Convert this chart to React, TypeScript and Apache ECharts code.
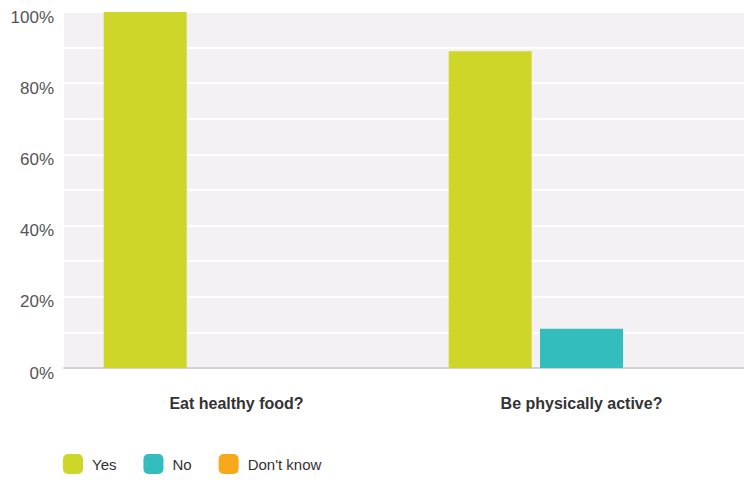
import React, { useEffect, useRef } from "react";
import * as echarts from "echarts";

const categories = ["Eat healthy food?", "Be physically active?"];
const yesValues = [100, 89];
const noValues = [0, 11];
const dontKnowValues = [0, 0];
const seriesNames = ["Yes", "No", "Don't know"];
const colors = ["#cdd629", "#33bdbd", "#f7a91c"];

export default function App() {
  const ref = useRef<HTMLDivElement>(null);
  useEffect(() => {
    if (!ref.current) return;
    const chart = echarts.init(ref.current, undefined, { renderer: "svg" });
    const font = "'Liberation Sans', Arial, sans-serif";
    const data = [yesValues, noValues, dontKnowValues];
    chart.setOption({
      animation: false,
      textStyle: { fontFamily: font },
      grid: {
        left: 64,
        top: 12,
        width: 690,
        height: 356,
        outerBoundsMode: "none",
        containLabel: false,
        show: true,
        backgroundColor: "#f4f1f4",
        borderWidth: 0,
      },
      legend: {
        left: 58,
        top: 449,
        itemWidth: 20,
        itemHeight: 20,
        itemGap: 27,
        icon: "roundRect",
        data: seriesNames,
        textStyle: { fontSize: 15, color: "#333", fontFamily: font, padding: [0, 0, 0, 4] },
      },
      xAxis: {
        type: "category",
        data: categories,
        axisTick: { show: false },
        axisLine: { show: true, lineStyle: { color: "#d3d3d3", width: 2 } },
        axisLabel: { fontSize: 16, fontWeight: "bold", color: "#333", margin: 27, fontFamily: font },
        splitLine: { show: false },
      },
      yAxis: {
        type: "value",
        min: 0,
        max: 100,
        interval: 10,
        axisLine: { show: false },
        axisTick: { show: false },
        axisLabel: {
          fontSize: 17,
          color: "#555",
          margin: 10,
          verticalAlign: "top",
          lineHeight: 10,
          fontFamily: font,
          formatter: (v: number) => (v % 20 === 0 ? v + "%" : ""),
        },
        splitLine: { show: true, lineStyle: { color: "#ffffff", width: 2 } },
      },
      series: seriesNames.map((name, i) => ({
        name,
        type: "bar",
        data: data[i],
        barWidth: 83,
        barGap: "10%",
        itemStyle: { color: colors[i] },
      })),
    });
    return () => chart.dispose();
  }, []);
  return (
    <div
      ref={ref}
      style={{ position: "absolute", left: 0, top: 0, width: 744, height: 480 }}
    />
  );
}
